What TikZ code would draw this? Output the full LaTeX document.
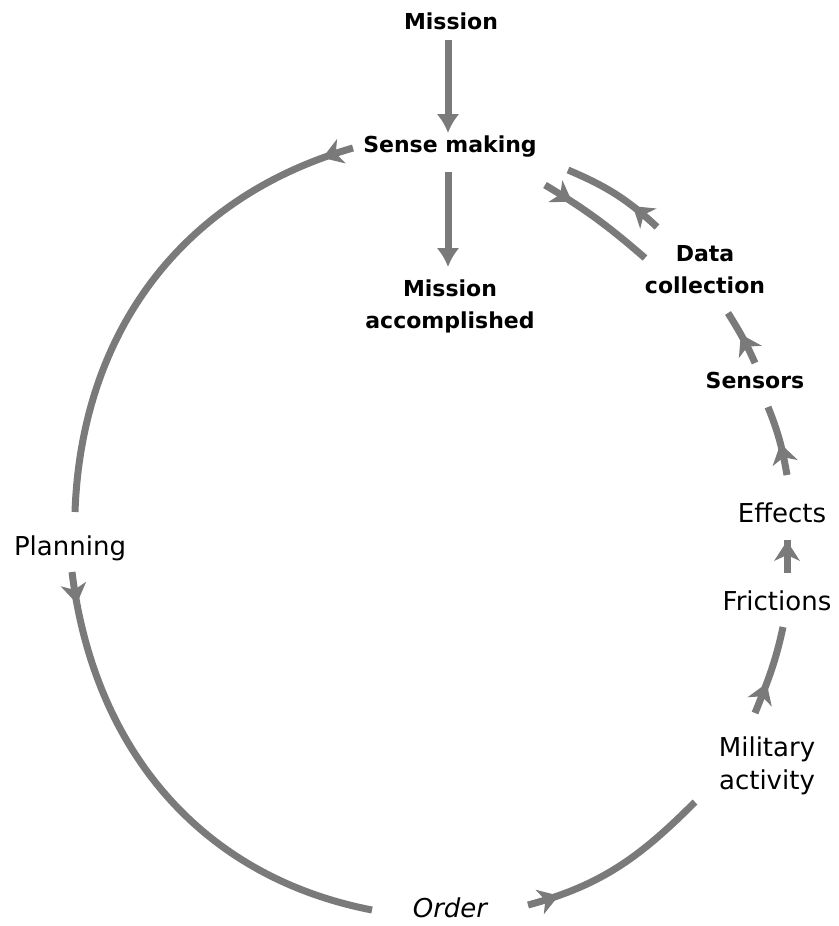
\documentclass[tikz,border=0pt]{standalone}
\usepackage{fontspec}
\setmainfont{DejaVu Sans}
\usetikzlibrary{arrows.meta,decorations.markings}
\definecolor{linegray}{RGB}{122,122,122}
\begin{document}
\begin{tikzpicture}[x=1pt,y=1pt,
  lbl/.style={inner sep=0pt, align=center, font=\fontsize{22}{32}\selectfont\bfseries},
  lbl2/.style={inner sep=0pt, align=center, font=\fontsize{26}{33}\selectfont},
  link/.style={draw=linegray, line width=7pt},
  plain/.style={link, -{Latex[length=19pt,width=23pt]}},
  flow/.style={link, postaction={decorate},
    decoration={markings, mark=at position #1 with {
      \fill[linegray] (5pt,0pt) -- (-15pt,13pt) -- (-9pt,0pt) -- (-15pt,-13pt) -- cycle;}}},
  flow/.default=27pt]
\useasboundingbox (0,0) rectangle (838,-926);

% labels
\node[lbl] (mission) at (451,-21) {Mission};
\node[lbl] (sense) at (450,-147) {Sense making};
\node[lbl] (acc) at (450,-306) {Mission\\accomplished};
\node[lbl] (data) at (705,-270) {Data\\collection};
\node[lbl] (sensors) at (755,-380) {Sensors};
\node[lbl2] (effects) at (782,-513) {Effects};
\node[lbl2] (frictions) at (777,-601) {Frictions};
\node[lbl2] (military) at (767,-766) {Military\\activity};
\node[lbl2] (order) at (450,-908) {\itshape Order};
\node[lbl2] (planning) at (70,-548) {Planning};

% straight arrows through the centre
\draw[plain] ([shift={(-3,-19)}]mission.center) -- ([shift={(-2,14)}]sense.center);
\draw[plain] ([shift={(-2,-25)}]sense.center) -- ([shift={(-2,39)}]acc.center);

% the loop
\draw[flow] ([shift={(-97,-1)}]sense.center) to[out=196,in=88] ([shift={(5,36)}]planning.center);
\draw[flow] ([shift={(2,-24)}]planning.center) to[out=277,in=169] ([shift={(-78,-2)}]order.center);
\draw[flow] ([shift={(78,3)}]order.center) to[out=15,in=225] ([shift={(-72,-36)}]military.center);
\draw[flow] ([shift={(-12,53)}]military.center) to[out=68,in=-102] ([shift={(6,-26)}]frictions.center);
\draw[flow=27pt] ([shift={(10,28)}]frictions.center) -- ([shift={(5,-27)}]effects.center);
\draw[flow] ([shift={(5,38)}]effects.center) to[out=100,in=-68] ([shift={(13,-27)}]sensors.center);
\draw[flow] ([shift={(0,17)}]sensors.center) to[out=114,in=-58] ([shift={(23,-43)}]data.center);
\draw[flow] ([shift={(-48,43)}]data.center) to[out=137,in=-23] ([shift={(118,-23)}]sense.center);
\draw[flow] ([shift={(95,-38)}]sense.center) to[out=-31,in=139] ([shift={(-60,12)}]data.center);
\end{tikzpicture}
\end{document}
